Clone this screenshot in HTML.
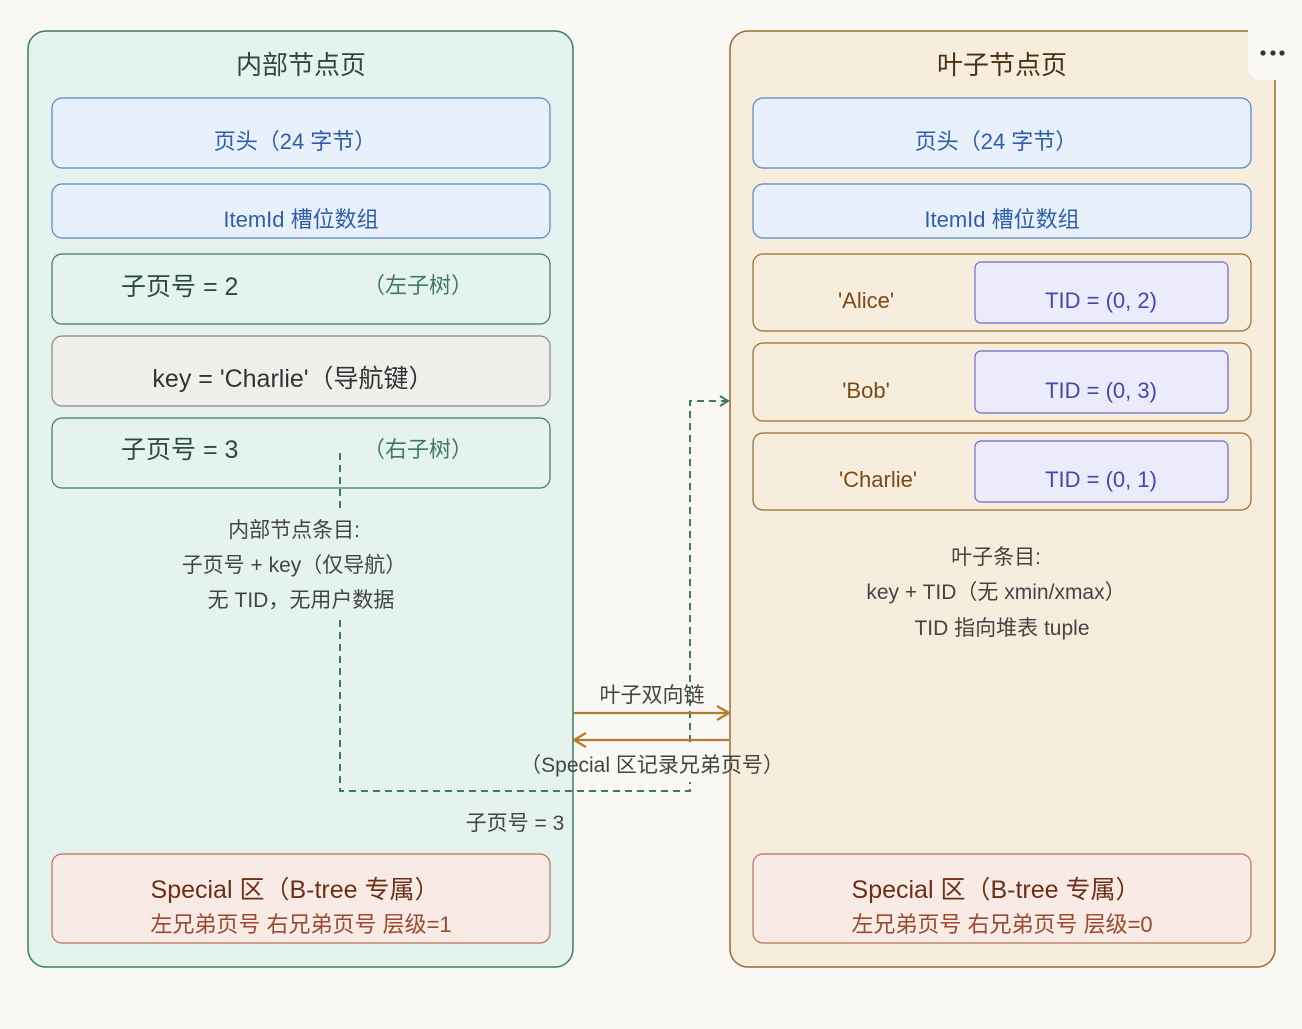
<!DOCTYPE html>
<html><head><meta charset="utf-8"><style>
html,body{margin:0;padding:0;background:#f9f8f4;}
svg{display:block;font-family:"Liberation Sans","Noto Sans CJK SC",sans-serif;}
</style></head><body>
<svg width="1302" height="1029" viewBox="0 0 1302 1029" xmlns="http://www.w3.org/2000/svg">
<defs>
<marker id="ag" markerWidth="12" markerHeight="12" refX="10" refY="6" orient="auto" markerUnits="userSpaceOnUse"><path d="M2,1 L10,6 L2,11" fill="none" stroke="#3d7a5e" stroke-width="2"/></marker>
<marker id="ao" markerWidth="16" markerHeight="16" refX="14" refY="8" orient="auto" markerUnits="userSpaceOnUse"><path d="M2,1 L14,8 L2,15" fill="none" stroke="#b57a2a" stroke-width="2.2"/></marker>
</defs>
<rect width="1302" height="1029" fill="#f9f8f4"/>
<!-- left container -->
<rect x="28" y="31" width="545" height="936" rx="18" fill="#e5f3ee" stroke="#3d7a5e" stroke-width="1.5"/>
<text x="301" y="74" font-size="26" fill="#2a4a3a" text-anchor="middle">内部节点页</text>
<rect x="52" y="98" width="498" height="70" rx="10" fill="#e8f0fb" stroke="#5a85c0" stroke-width="1.2"/>
<text x="295" y="149" font-size="22" fill="#2f5fa8" text-anchor="middle">页头（24 字节）</text>
<rect x="52" y="184" width="498" height="54" rx="10" fill="#e8f0fb" stroke="#5a85c0" stroke-width="1.2"/>
<text x="301" y="227" font-size="22" fill="#2f5fa8" text-anchor="middle">ItemId 槽位数组</text>
<rect x="52" y="254" width="498" height="70" rx="10" fill="#e5f3ee" stroke="#3d7a5e" stroke-width="1.2"/>
<text x="121" y="295" font-size="25" fill="#2a4a3a">子页号 = 2</text>
<text x="418" y="293" font-size="22" fill="#3d7a5e" text-anchor="middle">（左子树）</text>
<rect x="52" y="336" width="498" height="70" rx="10" fill="#f0efeb" stroke="#888" stroke-width="1.2"/>
<text x="293" y="387" font-size="25" fill="#333" text-anchor="middle">key = 'Charlie'（导航键）</text>
<rect x="52" y="418" width="498" height="70" rx="10" fill="#e5f3ee" stroke="#3d7a5e" stroke-width="1.2"/>
<text x="121" y="458" font-size="25" fill="#2a4a3a">子页号 = 3</text>
<text x="418" y="457" font-size="22" fill="#3d7a5e" text-anchor="middle">（右子树）</text>
<text x="294" y="537" font-size="21" fill="#444" text-anchor="middle">内部节点条目:</text>
<text x="294" y="572" font-size="21" fill="#444" text-anchor="middle">子页号 + key（仅导航）</text>
<text x="301" y="607" font-size="21" fill="#444" text-anchor="middle">无 TID，无用户数据</text>
<rect x="52" y="854" width="498" height="89" rx="10" fill="#f8eae5" stroke="#b8705a" stroke-width="1.2"/>
<text x="295" y="898" font-size="25" fill="#6e2f16" text-anchor="middle">Special 区（B-tree 专属）</text>
<text x="301" y="932" font-size="22" fill="#9a4a2e" text-anchor="middle">左兄弟页号 右兄弟页号 层级=1</text>
<!-- right container -->
<rect x="730" y="31" width="545" height="936" rx="18" fill="#f7eddc" stroke="#9a6a2e" stroke-width="1.5"/>
<text x="1002" y="74" font-size="26" fill="#4a3010" text-anchor="middle">叶子节点页</text>
<rect x="753" y="98" width="498" height="70" rx="10" fill="#e8f0fb" stroke="#5a85c0" stroke-width="1.2"/>
<text x="996" y="149" font-size="22" fill="#2f5fa8" text-anchor="middle">页头（24 字节）</text>
<rect x="753" y="184" width="498" height="54" rx="10" fill="#e8f0fb" stroke="#5a85c0" stroke-width="1.2"/>
<text x="1002" y="227" font-size="22" fill="#2f5fa8" text-anchor="middle">ItemId 槽位数组</text>
<g stroke-width="1.2">
<rect x="753" y="254" width="498" height="77" rx="10" fill="#f7eddc" stroke="#9a6a2e"/>
<rect x="975" y="262" width="253" height="61" rx="6" fill="#ebebfb" stroke="#6a6ad0"/>
<rect x="753" y="343" width="498" height="78" rx="10" fill="#f7eddc" stroke="#9a6a2e"/>
<rect x="975" y="351" width="253" height="62" rx="6" fill="#ebebfb" stroke="#6a6ad0"/>
<rect x="753" y="433" width="498" height="77" rx="10" fill="#f7eddc" stroke="#9a6a2e"/>
<rect x="975" y="441" width="253" height="61" rx="6" fill="#ebebfb" stroke="#6a6ad0"/>
</g>
<g font-size="22" text-anchor="middle">
<text x="866" y="308" fill="#7a4a14">'Alice'</text>
<text x="866" y="398" fill="#7a4a14">'Bob'</text>
<text x="878" y="487" fill="#7a4a14">'Charlie'</text>
<text x="1101" y="308" fill="#4646b0">TID = (0, 2)</text>
<text x="1101" y="398" fill="#4646b0">TID = (0, 3)</text>
<text x="1101" y="487" fill="#4646b0">TID = (0, 1)</text>
</g>
<text x="996" y="564" font-size="21" fill="#444" text-anchor="middle">叶子条目:</text>
<text x="996" y="599" font-size="21" fill="#444" text-anchor="middle">key + TID（无 xmin/xmax）</text>
<text x="1002" y="635" font-size="21" fill="#444" text-anchor="middle">TID 指向堆表 tuple</text>
<rect x="753" y="854" width="498" height="89" rx="10" fill="#f8eae5" stroke="#b8705a" stroke-width="1.2"/>
<text x="996" y="898" font-size="25" fill="#6e2f16" text-anchor="middle">Special 区（B-tree 专属）</text>
<text x="1002" y="932" font-size="22" fill="#9a4a2e" text-anchor="middle">左兄弟页号 右兄弟页号 层级=0</text>
<!-- dashed connector -->
<g fill="none" stroke="#3d7a5e" stroke-width="2" stroke-dasharray="7,5">
<path d="M340,453 V508"/>
<path d="M340,620 V791 H690 V782"/>
<path d="M690,742 V401 H728" marker-end="url(#ag)"/>
</g>
<!-- sibling arrows -->
<line x1="574" y1="713" x2="729" y2="713" stroke="#b57a2a" stroke-width="2.2" marker-end="url(#ao)"/>
<line x1="729" y1="740" x2="574" y2="740" stroke="#b57a2a" stroke-width="2.2" marker-end="url(#ao)"/>
<text x="652" y="702" font-size="21" fill="#444" text-anchor="middle">叶子双向链</text>
<text x="652" y="772" font-size="21" fill="#444" text-anchor="middle">（Special 区记录兄弟页号）</text>
<text x="515" y="830" font-size="21" fill="#444" text-anchor="middle">子页号 = 3</text>
<!-- menu -->
<path d="M1248,20 H1302 V80 H1262 Q1248,80 1248,66 Z" fill="#faf9f6"/>
<circle cx="1263" cy="53" r="2.6" fill="#333"/><circle cx="1273" cy="53" r="2.6" fill="#333"/><circle cx="1282" cy="53" r="2.6" fill="#333"/>
</svg>
</body></html>
